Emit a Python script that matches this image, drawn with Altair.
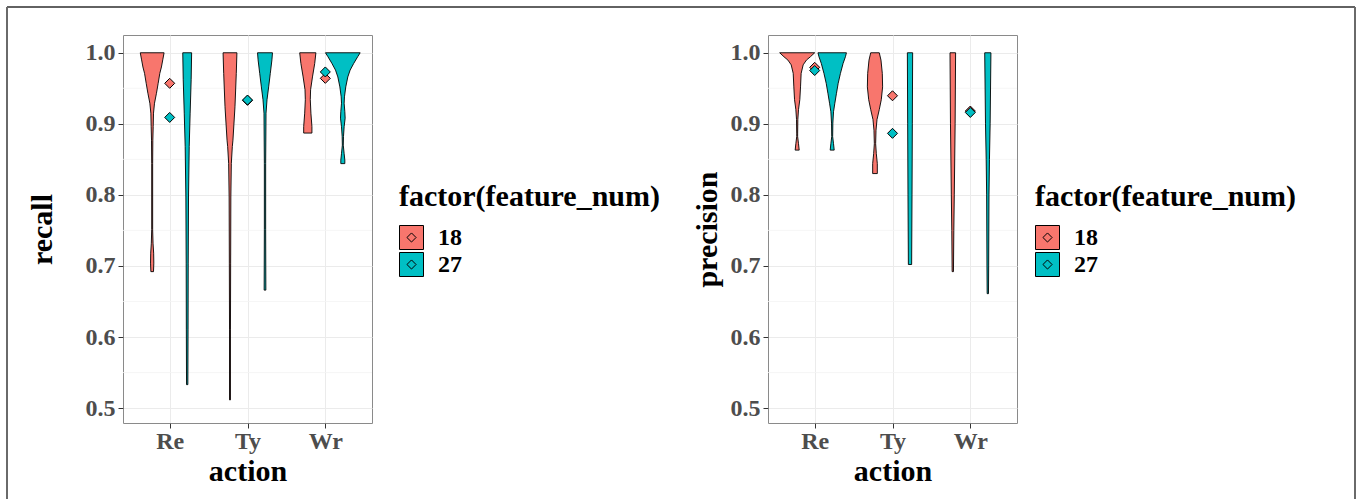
import altair as alt
import pandas as pd

ACTIONS = ["Re", "Ty", "Wr"]
GROUPS = ["18", "27"]
COLORS = ["#F8766D", "#00BFC4"]
Y_TICKS = [0.5, 0.6, 0.7, 0.8, 0.9, 1.0]
Y_MINOR = [0.55, 0.65, 0.75, 0.85, 0.95]

# ---- recall violins: outline values and half-widths (category units) ----
rec_re_18_v = [1.0, 0.990, 0.980, 0.971, 0.957, 0.943, 0.929, 0.915, 0.896, 0.877, 0.844, 0.797, 0.751, 0.732, 0.718, 0.704, 0.692]
rec_re_18_w = [0.153, 0.136, 0.119, 0.098, 0.077, 0.055, 0.030, 0.017, 0.013, 0.0085, 0.006, 0.006, 0.006, 0.011, 0.019, 0.021, 0.017]
rec_re_27_v = [1.0, 0.962, 0.915, 0.868, 0.797, 0.704, 0.610, 0.533]
rec_re_27_w = [0.057, 0.051, 0.038, 0.026, 0.017, 0.013, 0.011, 0.0085]
rec_ty_18_v = [1.0, 0.971, 0.924, 0.877, 0.868, 0.844, 0.797, 0.704, 0.610, 0.5115]
rec_ty_18_w = [0.089, 0.081, 0.064, 0.038, 0.030, 0.017, 0.011, 0.0085, 0.006, 0.006]
rec_ty_27_v = [1.0, 0.990, 0.971, 0.952, 0.934, 0.915, 0.844, 0.751, 0.666]
rec_ty_27_w = [0.096, 0.089, 0.068, 0.047, 0.026, 0.013, 0.0085, 0.0085, 0.011]
rec_wr_18_v = [1.0, 0.985, 0.966, 0.948, 0.934, 0.915, 0.896, 0.887]
rec_wr_18_w = [0.104, 0.089, 0.060, 0.036, 0.032, 0.040, 0.053, 0.053]
rec_wr_27_v = [1.0, 0.9944, 0.985, 0.9756, 0.966, 0.952, 0.938, 0.929, 0.917, 0.908, 0.896, 0.882, 0.870, 0.858, 0.849, 0.844]
rec_wr_27_w = [0.223, 0.191, 0.140, 0.094, 0.064, 0.038, 0.021, 0.017, 0.026, 0.030, 0.017, 0.0085, 0.006, 0.017, 0.026, 0.026]

# ---- precision violins ----
pre_re_18_v = [1.0, 0.9944, 0.9897, 0.983, 0.971, 0.952, 0.934, 0.920, 0.906, 0.887, 0.882, 0.872, 0.863]
pre_re_18_w = [0.225, 0.170, 0.119, 0.077, 0.051, 0.043, 0.034, 0.017, 0.0085, 0.006, 0.006, 0.017, 0.026]
pre_re_27_v = [1.0, 0.9944, 0.985, 0.971, 0.957, 0.943, 0.929, 0.917, 0.901, 0.882, 0.872, 0.863]
pre_re_27_w = [0.183, 0.170, 0.140, 0.106, 0.077, 0.055, 0.034, 0.017, 0.0085, 0.006, 0.017, 0.026]
pre_ty_18_v = [1.0, 0.9897, 0.971, 0.952, 0.934, 0.920, 0.906, 0.891, 0.872, 0.858, 0.844, 0.830]
pre_ty_18_w = [0.055, 0.077, 0.094, 0.098, 0.081, 0.055, 0.026, 0.013, 0.0085, 0.017, 0.030, 0.030]
pre_ty_27_v = [1.0, 0.9, 0.8, 0.702]
pre_ty_27_w = [0.034, 0.030, 0.026, 0.021]
pre_wr_18_v = [1.0, 0.9, 0.8, 0.75, 0.692]
pre_wr_18_w = [0.036, 0.030, 0.019, 0.013, 0.0085]
pre_wr_27_v = [1.0, 0.9, 0.85, 0.8, 0.7, 0.661]
pre_wr_27_w = [0.040, 0.030, 0.021, 0.015, 0.011, 0.0085]

# ---- group means (diamonds), ordered Re, Ty, Wr ----
recall_mean_18 = [0.957, 0.933, 0.964]
recall_mean_27 = [0.909, 0.9335, 0.973]
precision_mean_18 = [0.9795, 0.9395, 0.918]
precision_mean_27 = [0.975, 0.8866, 0.916]

DODGE = 0.225

recall_violins = {
    ("Re", "18"): (rec_re_18_v, rec_re_18_w), ("Re", "27"): (rec_re_27_v, rec_re_27_w),
    ("Ty", "18"): (rec_ty_18_v, rec_ty_18_w), ("Ty", "27"): (rec_ty_27_v, rec_ty_27_w),
    ("Wr", "18"): (rec_wr_18_v, rec_wr_18_w), ("Wr", "27"): (rec_wr_27_v, rec_wr_27_w),
}
precision_violins = {
    ("Re", "18"): (pre_re_18_v, pre_re_18_w), ("Re", "27"): (pre_re_27_v, pre_re_27_w),
    ("Ty", "18"): (pre_ty_18_v, pre_ty_18_w), ("Ty", "27"): (pre_ty_27_v, pre_ty_27_w),
    ("Wr", "18"): (pre_wr_18_v, pre_wr_18_w), ("Wr", "27"): (pre_wr_27_v, pre_wr_27_w),
}


def violin_frame(violins):
    rows = []
    for (act, grp), (vals, hws) in violins.items():
        center = ACTIONS.index(act) + 1 + (-DODGE if grp == "18" else DODGE)
        vid = f"{act}-{grp}"
        for v, w in zip(vals, hws):
            rows.append({"vid": vid, "group": grp, "value": v,
                         "left": center - w, "right": center + w})
    return pd.DataFrame(rows)


def mean_frame(m18, m27):
    rows = []
    for grp, ms in (("18", m18), ("27", m27)):
        for i, m in enumerate(ms):
            rows.append({"group": grp, "pos": i + 1, "mean": m})
    return pd.DataFrame(rows)


FONT = "Liberation Serif"
SYMBOL = "M-1,-1H1V1H-1Z M0,-0.38L0.38,0L0,0.38L-0.38,0Z"
W, H = 249, 388


def panel(violins, m18, m27, ytitle, ytitle_pad, legend_x, legend_y, frame=False):
    xs = alt.Scale(domain=[0.4, 3.6], nice=False, zero=False)
    ys = alt.Scale(domain=[0.479, 1.025], nice=False, zero=False)
    cs = alt.Scale(domain=GROUPS, range=COLORS)
    legend = alt.Legend(
        title="factor(feature_num)", orient="none", legendX=legend_x, legendY=legend_y,
        symbolType=SYMBOL, symbolSize=576, symbolStrokeColor="black", symbolStrokeWidth=1,
        symbolOpacity=1,
        labelFont=FONT, labelFontSize=24, labelFontWeight="bold", labelColor="black",
        labelOffset=14, titleFont=FONT, titleFontSize=30, titleFontWeight="bold",
        titleColor="black", titlePadding=13, rowPadding=-4, titleLimit=500, labelLimit=200,
    )
    minor = alt.Chart(pd.DataFrame({"v": Y_MINOR})).mark_rule(
        color="#F4F4F4", strokeWidth=0.8
    ).encode(y=alt.Y("v:Q", scale=ys))
    vio = alt.Chart(violin_frame(violins)).mark_area(
        orient="horizontal", stroke="black", strokeWidth=0.9, opacity=1, fillOpacity=1
    ).encode(
        y=alt.Y("value:Q", scale=ys, title=ytitle,
                axis=alt.Axis(values=Y_TICKS, format=".1f", titlePadding=ytitle_pad, labelPadding=3)),
        x=alt.X("left:Q", scale=xs, title="action",
                axis=alt.Axis(values=[1, 2, 3], labelExpr="['', 'Re', 'Ty', 'Wr'][datum.value]",
                              labelPadding=1, titlePadding=3)),
        x2="right:Q",
        detail="vid:N",
        color=alt.Color("group:N", scale=cs, legend=legend),
    )
    pts = alt.Chart(mean_frame(m18, m27)).mark_point(
        shape="diamond", filled=True, size=100, stroke="black", strokeWidth=1, opacity=1
    ).encode(
        x=alt.X("pos:Q", scale=xs),
        y=alt.Y("mean:Q", scale=ys),
        color=alt.Color("group:N", scale=cs, legend=legend),
    )
    layers = [minor, vio, pts]
    if frame:
        one = pd.DataFrame({"k": [0]})
        top = alt.Chart(one).mark_rule(color="#2e2e2e", strokeWidth=1.6).encode(
            x=alt.value(-116), x2=alt.value(1232), y=alt.value(-28))
        lft = alt.Chart(one).mark_rule(color="#6a6a6a", strokeWidth=2).encode(
            x=alt.value(-116), y=alt.value(-28), y2=alt.value(464))
        rgt = alt.Chart(one).mark_rule(color="#6a6a6a", strokeWidth=2).encode(
            x=alt.value(1232), y=alt.value(-28), y2=alt.value(464))
        layers += [top, lft, rgt]
    return alt.layer(*layers).properties(width=W, height=H)


left = panel(recall_violins, recall_mean_18, recall_mean_27, "recall", 28, 276, 147, frame=True)
right = panel(precision_violins, precision_mean_18, precision_mean_27, "precision", 8, 267, 147)

chart = alt.hconcat(left, right, spacing=396, bounds="flush").resolve_scale(
    color="independent"
).resolve_legend(color="independent").properties(
    padding={"left": 5, "top": 5, "right": 0, "bottom": 0},
    background="white",
).configure_view(stroke="#8a8a8a", strokeWidth=1).configure_axis(
    labelFont=FONT, labelFontSize=24, labelFontWeight="bold", labelColor="#4D4D4D",
    titleFont=FONT, titleFontSize=30, titleFontWeight="bold", titleColor="black",
    tickColor="#333333", tickSize=5, tickWidth=1, domain=False,
    gridColor="#EBEBEB", gridWidth=1,
)

chart.save("out.html", embed_options={"renderer": "svg", "actions": False})
